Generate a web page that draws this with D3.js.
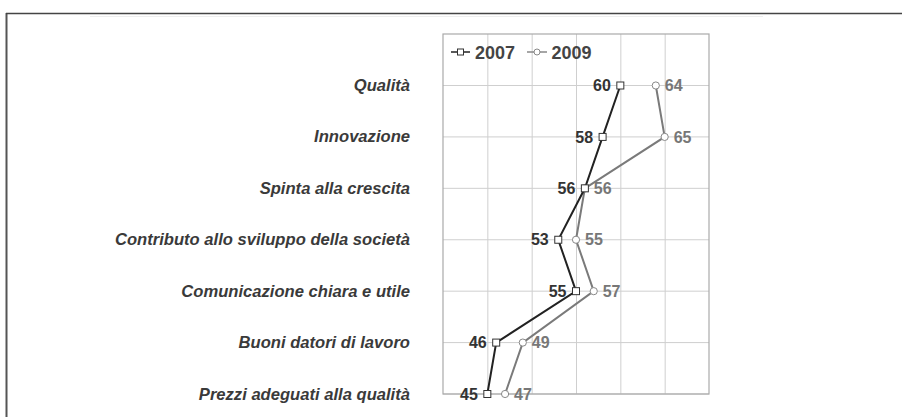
<!DOCTYPE html>
<html><head><meta charset="utf-8">
<script src="https://cdn.jsdelivr.net/npm/d3@7"></script>
<style>
html,body{margin:0;padding:0;background:#fff;}
svg{display:block;font-family:"Liberation Sans",Arial,sans-serif;}
</style></head>
<body>
<svg id="chart" width="902" height="417"></svg>
<script>
const categories = ["Qualità","Innovazione","Spinta alla crescita","Contributo allo sviluppo della società","Comunicazione chiara e utile","Buoni datori di lavoro","Prezzi adeguati alla qualità"];
const values2007 = [60,58,56,53,55,46,45];
const values2009 = [64,65,56,55,57,49,47];
const seriesNames = ["2007","2009"];
const xTicks = [45,50,55,60,65];

const svg = d3.select("#chart");
// outer frame
svg.append("line").attr("x1",6.5).attr("x2",6.5).attr("y1",13).attr("y2",417).attr("stroke","#555").attr("stroke-width",2);
svg.append("line").attr("x1",6).attr("x2",902).attr("y1",13.5).attr("y2",13.5).attr("stroke","#444").attr("stroke-width",1.5);
svg.append("line").attr("x1",90).attr("x2",763).attr("y1",16.5).attr("y2",16.5).attr("stroke","#eee").attr("stroke-width",1);

const L = 443, R = 709, T = 34, B = 394;
const x = d3.scaleLinear().domain([40,70]).range([L,R]);
const y = d3.scalePoint().domain(categories).range([85.5,B]);

const g = svg.append("g");
// vertical gridlines
g.append("g").attr("transform",`translate(0,${B})`)
  .call(d3.axisBottom(x).tickValues(xTicks).tickSize(-(B-T)).tickFormat(""))
  .call(s=>{s.select(".domain").remove();s.selectAll(".tick line").attr("stroke","#cfcfcf");});
// horizontal gridlines
g.selectAll(".hg").data(categories).enter().append("line")
  .attr("x1",L).attr("x2",R).attr("y1",d=>y(d)).attr("y2",d=>y(d))
  .attr("stroke","#cfcfcf");
// plot border
g.append("rect").attr("x",L).attr("y",T).attr("width",R-L).attr("height",B-T)
  .attr("fill","none").attr("stroke","#aaa").attr("stroke-width",1.2);

// category labels
svg.selectAll(".cat").data(categories).enter().append("text")
  .attr("x",410).attr("y",d=>y(d)+5.5).attr("text-anchor","end")
  .attr("font-size",16.6).attr("font-style","italic").attr("font-weight","bold")
  .attr("fill","#3a3a3a").text(d=>d);

const line = d3.line().x(d=>x(d.v)).y(d=>y(d.c));
const d07 = categories.map((c,i)=>({c,v:values2007[i]}));
const d09 = categories.map((c,i)=>({c,v:values2009[i]}));

// 2009 series
svg.append("path").datum(d09).attr("d",line).attr("fill","none").attr("stroke","#7a7a7a").attr("stroke-width",2);
svg.selectAll(".m09").data(d09).enter().append("circle")
  .attr("cx",d=>x(d.v)).attr("cy",d=>y(d.c)).attr("r",3.6)
  .attr("fill","#fff").attr("stroke","#888").attr("stroke-width",1);
svg.selectAll(".l09").data(d09).enter().append("text")
  .attr("x",d=>x(d.v)+9).attr("y",d=>y(d.c)+5.6)
  .attr("font-size",16).attr("font-weight","bold").attr("fill","#777").text(d=>d.v);

// 2007 series
svg.append("path").datum(d07).attr("d",line).attr("fill","none").attr("stroke","#222").attr("stroke-width",2);
svg.selectAll(".m07").data(d07).enter().append("rect")
  .attr("x",d=>x(d.v)-3.5).attr("y",d=>y(d.c)-3.5).attr("width",7).attr("height",7)
  .attr("fill","#fff").attr("stroke","#333").attr("stroke-width",1);
svg.selectAll(".l07").data(d07).enter().append("text")
  .attr("x",d=>x(d.v)-9.5).attr("y",d=>y(d.c)+5.6).attr("text-anchor","end")
  .attr("font-size",16).attr("font-weight","bold").attr("fill","#333").text(d=>d.v);

// legend
const ly = 52;
const lg = svg.append("g");
lg.append("line").attr("x1",451).attr("x2",470).attr("y1",ly).attr("y2",ly).attr("stroke","#222").attr("stroke-width",1.5);
lg.append("rect").attr("x",457.5).attr("y",ly-3).attr("width",6).attr("height",6).attr("fill","#fff").attr("stroke","#333");
lg.append("text").attr("x",475).attr("y",ly+6.5).attr("font-size",18).attr("font-weight","bold").attr("fill","#444").text(seriesNames[0]);
lg.append("line").attr("x1",527).attr("x2",547).attr("y1",ly).attr("y2",ly).attr("stroke","#888").attr("stroke-width",1.5);
lg.append("circle").attr("cx",537).attr("cy",ly).attr("r",3).attr("fill","#fff").attr("stroke","#888");
lg.append("text").attr("x",551.5).attr("y",ly+6.5).attr("font-size",18).attr("font-weight","bold").attr("fill","#444").text(seriesNames[1]);
</script>
</body></html>
